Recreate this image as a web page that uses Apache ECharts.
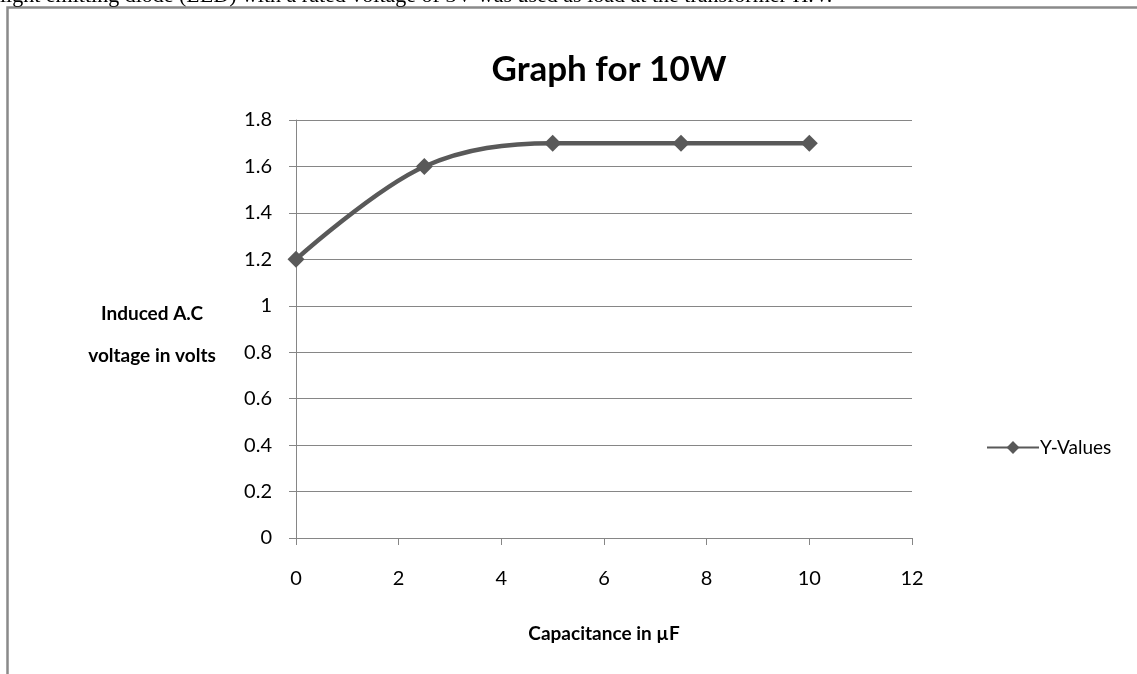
<!DOCTYPE html>
<html>
<head>
<meta charset="utf-8">
<title>Graph for 10W</title>
<script src="https://cdn.jsdelivr.net/npm/echarts@6/dist/echarts.min.js"></script>
<style>
  html, body { margin: 0; padding: 0; background: #ffffff; overflow: hidden; }
  #chart { width: 1137px; height: 674px; }
</style>
</head>
<body>
<div id="chart"></div>
<script>
// Capacitance (µF) against induced A.C voltage (V) for the 10W load
const capacitance = [0, 2.5, 5, 7.5, 10];
const inducedVoltage = [1.2, 1.6, 1.7, 1.7, 1.7];
const seriesName = 'Y-Values';
const chartTitle = 'Graph for 10W';
const xAxisTitle = 'Capacitance in µF';
const yAxisTitle = 'Induced A.C\nvoltage in volts';
const pageLine = 'light emitting diode (LED) with a rated voltage of 3V was used as load at the transformer H.V.';

const font = 'Lato, "Open Sans", "Noto Sans", sans-serif';
const gridGray = '#868686';
const lineGray = '#595959';

const chart = echarts.init(document.getElementById('chart'), null, { renderer: 'canvas' });

chart.setOption({
  backgroundColor: '#ffffff',
  animation: false,
  title: {
    text: chartTitle,
    left: 604,
    top: 47,
    textAlign: 'center',
    textStyle: { fontFamily: font, fontWeight: 'bold', fontSize: 35, color: '#000000' }
  },
  legend: {
    left: 981,
    top: 433,
    itemWidth: 52,
    itemHeight: 16,
    itemGap: 0,
    textStyle: { fontFamily: font, fontSize: 19, color: '#000000', padding: [0, 0, 0, -4] },
    data: [seriesName]
  },
  grid: { left: 296, right: 225, top: 120, bottom: 136, containLabel: false },
  xAxis: {
    type: 'value',
    min: 0,
    max: 12,
    interval: 2,
    name: xAxisTitle,
    nameLocation: 'middle',
    nameGap: 86,
    nameTextStyle: { fontFamily: font, fontWeight: 'bold', fontSize: 19, color: '#000000' },
    axisLine: { show: true, lineStyle: { color: gridGray, width: 1 } },
    axisTick: { show: true, length: 7, lineStyle: { color: gridGray } },
    axisLabel: { margin: 31, fontFamily: font, fontSize: 20, color: '#000000' },
    splitLine: { show: false }
  },
  yAxis: {
    type: 'value',
    min: 0,
    max: 1.8,
    interval: 0.2,
    axisLine: { show: true, lineStyle: { color: gridGray, width: 1 } },
    axisTick: { show: true, length: 7, lineStyle: { color: gridGray } },
    axisLabel: {
      margin: 24,
      fontFamily: font,
      fontSize: 20,
      color: '#000000',
      formatter: v => String(Math.round(v * 10) / 10)
    },
    splitLine: { show: true, lineStyle: { color: gridGray, width: 1 } }
  },
  graphic: [
    {
      type: 'rect',
      shape: { x: 7.5, y: 7.5, width: 1300, height: 800 },
      style: { fill: 'none', stroke: '#8a8a8a', lineWidth: 2.5 },
      silent: true
    },
    {
      type: 'text',
      x: 0,
      y: 7.5,
      style: {
        text: pageLine,
        fontFamily: '"Liberation Serif", "DejaVu Serif", serif',
        fontSize: 22,
        fill: '#000000',
        verticalAlign: 'bottom',
        textVerticalAlign: 'bottom'
      },
      silent: true
    },
    {
      type: 'text',
      x: 152,
      y: 335,
      style: {
        text: yAxisTitle,
        align: 'center',
        textAlign: 'center',
        verticalAlign: 'middle',
        textVerticalAlign: 'middle',
        fontFamily: font,
        fontWeight: 'bold',
        fontSize: 19,
        lineHeight: 42,
        fill: '#000000'
      },
      silent: true
    }
  ],
  series: [
    {
      name: seriesName,
      type: 'line',
      data: capacitance.map((c, i) => [c, inducedVoltage[i]]),
      smooth: 0.35,
      symbol: 'diamond',
      symbolSize: 17,
      lineStyle: { color: lineGray, width: 4.5 },
      itemStyle: { color: lineGray },
      emphasis: { disabled: true }
    }
  ]
});
</script>
</body>
</html>
